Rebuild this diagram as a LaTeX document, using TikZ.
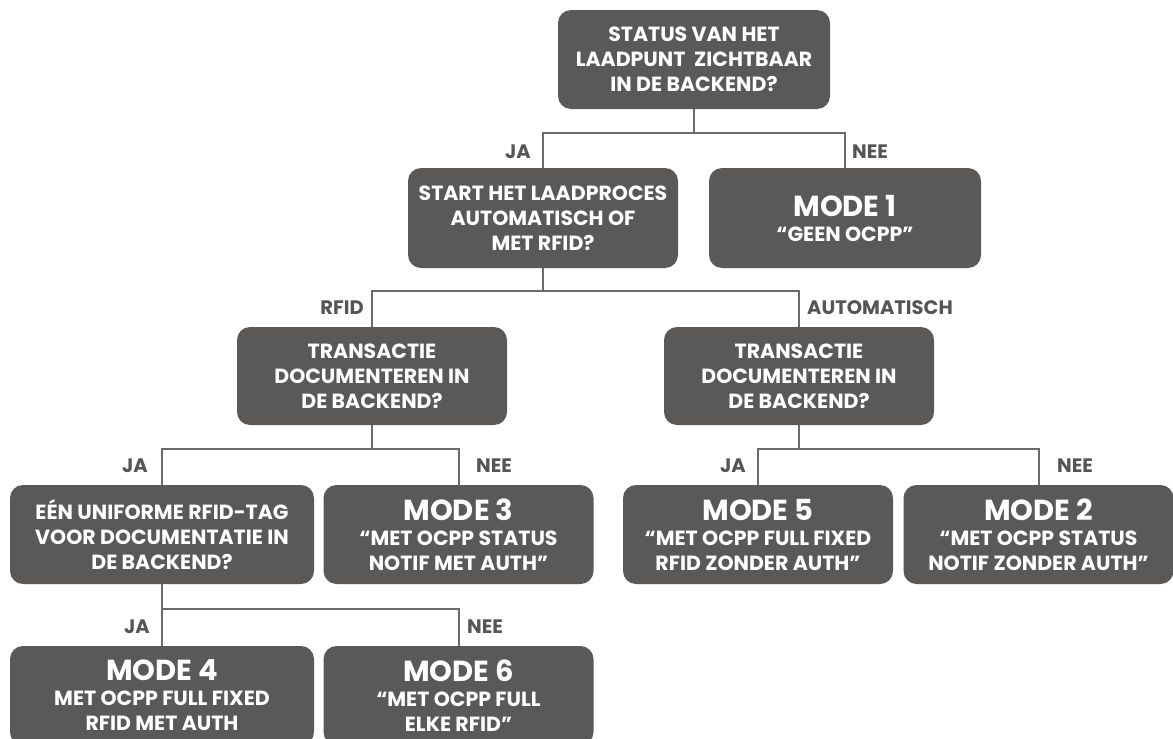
\documentclass[tikz,border=0pt]{standalone}
\usepackage{fontspec}
\setmainfont{Poppins}
\definecolor{boxgray}{HTML}{5A5957}
\definecolor{linegray}{HTML}{6A6A6A}
\definecolor{labelgray}{HTML}{555555}
\newcommand{\modetitle}[1]{{\fontsize{29}{29}\selectfont #1}}

\begin{document}
\begin{tikzpicture}[x=1pt,y=-1pt,
    box/.style={fill=boxgray, rounded corners=13pt, text=white, align=center,
        inner sep=0pt, minimum width=270pt, minimum height=99pt,
        font=\bfseries\fontsize{20.5}{25}\selectfont},
    widebox/.style={box, minimum width=304pt},
    conn/.style={draw=linegray, line width=2pt},
    lbl/.style={text=labelgray, inner sep=0pt, font=\bfseries\fontsize{19.5}{19.5}\selectfont}]

        % Fix the page size and cut off what hangs over the bottom
        \useasboundingbox (0,0) rectangle (1173,739);
        \clip (0,0) rectangle (1173,739);

        % Draw the questions and the modes
        \node[box, minimum width=272pt] (status) at (694,59.5)
            {STATUS VAN HET\\LAADPUNT\ \ ZICHTBAAR\\IN DE BACKEND?};
        \node[box, minimum height=100pt] (start) at (543,218)
            {START HET LAADPROCES\\AUTOMATISCH OF\\MET RFID?};
        \node[box, minimum width=272pt, minimum height=100pt] (mode1) at (845,218)
            {\modetitle{MODE 1}\\“GEEN OCPP”};
        \node[box, minimum height=98pt] (transrfid) at (372,376)
            {TRANSACTIE\\DOCUMENTEREN IN\\DE BACKEND?};
        \node[box, minimum height=98pt] (transauto) at (799,376)
            {TRANSACTIE\\DOCUMENTEREN IN\\DE BACKEND?};
        \node[widebox] (uniform) at (162,534.5)
            {EÉN UNIFORME RFID-TAG\\VOOR DOCUMENTATIE IN\\DE BACKEND?};
        \node[box] (mode3) at (458.5,534.5)
            {\modetitle{MODE 3}\\“MET OCPP STATUS\\NOTIF MET AUTH”};
        \node[box] (mode5) at (758,534.5)
            {\modetitle{MODE 5}\\“MET OCPP FULL FIXED\\RFID ZONDER AUTH”};
        \node[box] (mode2) at (1038.5,534.5)
            {\modetitle{MODE 2}\\“MET OCPP STATUS\\NOTIF ZONDER AUTH”};
        \node[widebox] (mode4) at (162,695.5)
            {\modetitle{MODE 4}\\MET OCPP FULL FIXED\\RFID MET AUTH};
        \node[box] (mode6) at (458.5,695.5)
            {\modetitle{MODE 6}\\“MET OCPP FULL\\ELKE RFID”};

        % Draw the branches
        \draw[conn] (status.south) -- ++(0,24) -| (start.north);
        \draw[conn] (status.south) -- ++(0,24) -| (mode1.north);
        \draw[conn] (start.south) -- ++(0,23) -| (transrfid.north);
        \draw[conn] (start.south) -- ++(0,23) -| (transauto.north);
        \draw[conn] (transrfid.south) -- ++(0,24) -| (uniform.north);
        \draw[conn] (transrfid.south) -- ++(0,24) -| (mode3.north);
        \draw[conn] (transauto.south) -- ++(0,24) -| (mode5.north);
        \draw[conn] (transauto.south) -- ++(0,24) -| (mode2.north);
        \draw[conn] (uniform.south) -- ++(0,25) -| (mode4.north);
        \draw[conn] (uniform.south) -- ++(0,25) -| (mode6.north);

        % Add the answers
        \node[lbl, anchor=east] (ja1) at (531,152) {JA};
        \node[lbl, anchor=west] (nee1) at (852,152) {NEE};
        \node[lbl, anchor=east] (rfid) at (364,308) {RFID};
        \node[lbl, anchor=west] (auto) at (807,308) {AUTOMATISCH};
        \node[lbl, anchor=east] (ja2) at (148,466) {JA};
        \node[lbl, anchor=west] (nee2) at (476,466) {NEE};
        \node[lbl, anchor=east] (ja3) at (746,466) {JA};
        \node[lbl, anchor=west] (nee3) at (1057,466) {NEE};
        \node[lbl, anchor=east] (ja4) at (150,627) {JA};
        \node[lbl, anchor=west] (nee4) at (467,627) {NEE};
    \end{tikzpicture}
\end{document}
